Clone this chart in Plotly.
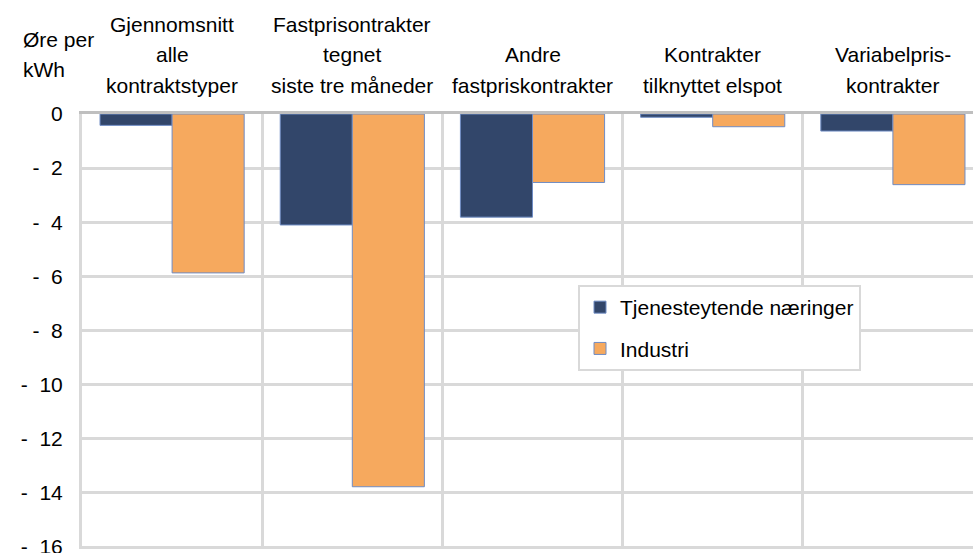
import plotly.graph_objects as go

# ---- data ----
categories = [
    "Gjennomsnitt\nalle\nkontraktstyper",
    "Fastprisontrakter\ntegnet\nsiste tre måneder",
    "Andre\nfastpriskontrakter",
    "Kontrakter\ntilknyttet elspot",
    "Variabelpris-\nkontrakter",
]
series_names = ["Tjenesteytende næringer", "Industri"]
tjenesteytende = [-0.42, -4.10, -3.81, -0.12, -0.63]
industri = [-5.87, -13.77, -2.53, -0.47, -2.61]
y_tickvals = [0, -2, -4, -6, -8, -10, -12, -14, -16]
y_title_lines = ["Øre per", "kWh"]

NAVY = "#32466a"
ORANGE = "#f6a95e"
EDGE = "#6f8cc4"
GRID = "#d9d9d9"
FONT = "Liberation Sans, Arial, sans-serif"
FS = 21

cat_keys = [c.replace("\n", " ") for c in categories]

fig = go.Figure()
for name, vals, col, grp in [(series_names[0], tjenesteytende, NAVY, "a"),
                             (series_names[1], industri, ORANGE, "b")]:
    fig.add_trace(go.Bar(
        x=cat_keys, y=vals, name=name, legendgroup=grp,
        marker=dict(color=col, line=dict(color=EDGE, width=1)),
    ))

ticktext = ["0" if v == 0 else "-\u00a0\u00a0" + str(abs(v)) for v in y_tickvals]

annotations = []
for key, cat in zip(cat_keys, categories):
    lines = cat.split("\n")
    for k, line in enumerate(reversed(lines)):
        annotations.append(dict(
            x=key, xref="x", y=1, yref="paper", yanchor="middle", xanchor="center",
            yshift=29 + 30.5 * k, text=line, showarrow=False,
            font=dict(family=FONT, size=FS, color="#000000"),
        ))
for k, line in enumerate(reversed(y_title_lines)):
    annotations.append(dict(
        x=0, xref="paper", xanchor="left", xshift=-61, y=1, yref="paper",
        yanchor="middle", yshift=45 + 30 * k, text=line, showarrow=False,
        font=dict(family=FONT, size=FS, color="#000000"),
    ))

n = len(categories)
fig.update_layout(
    width=973, height=553,
    margin=dict(l=82, r=0, t=114, b=4, pad=0),
    paper_bgcolor="white", plot_bgcolor="white",
    barmode="group", bargap=0.2, bargroupgap=0,
    font=dict(family=FONT, size=FS, color="#000000"),
    showlegend=True,
    legend=dict(
        x=(578 - 82) / 891, y=(549 - 285) / 435, xanchor="left", yanchor="top",
        bgcolor="white", bordercolor=GRID, borderwidth=2,
        font=dict(family=FONT, size=FS, color="#000000"),
        traceorder="grouped", tracegroupgap=11, itemwidth=30,
    ),
    annotations=annotations,
    xaxis=dict(
        type="category", range=[-0.5, n - 0.5 - (983 - 973) / 180.2],
        tickson="boundaries", showgrid=True, gridcolor=GRID, gridwidth=3,
        showticklabels=False, ticks="", side="top", automargin=False,
        showline=True, linecolor="#bfbfbf", linewidth=3,
        zeroline=False, fixedrange=True,
    ),
    yaxis=dict(
        range=[-16.07, 0], tickvals=y_tickvals, ticktext=ticktext,
        showgrid=True, gridcolor=GRID, gridwidth=3, automargin=False,
        zeroline=False, showline=True, linecolor=GRID, linewidth=3,
        ticks="", ticklabelstandoff=12, ticklabeloverflow="allow",
        tickfont=dict(family=FONT, size=FS, color="#000000"),
    ),
)

fig.write_html("out.html", config={"displayModeBar": False},
               post_script="document.body.style.margin='0';")
